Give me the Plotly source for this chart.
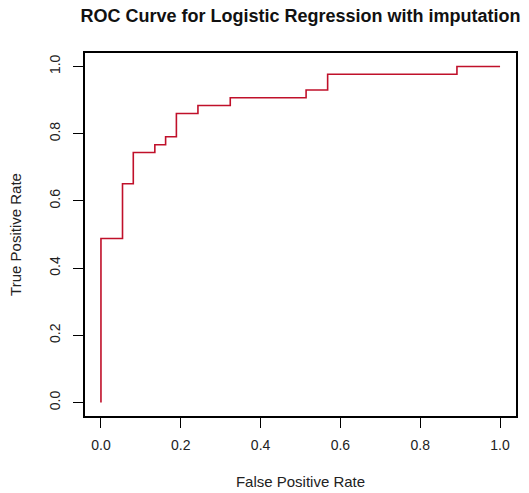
import plotly.graph_objects as go

# ROC step points
fpr = [0.0, 0.0, 0.054, 0.054, 0.081, 0.081, 0.135, 0.135, 0.162, 0.162, 0.189, 0.189,
       0.243, 0.243, 0.324, 0.324, 0.514, 0.514, 0.568, 0.568, 0.892, 0.892, 1.0]
tpr = [0.0, 0.488, 0.488, 0.651, 0.651, 0.744, 0.744, 0.767, 0.767, 0.791, 0.791, 0.860,
       0.860, 0.884, 0.884, 0.907, 0.907, 0.930, 0.930, 0.977, 0.977, 1.0, 1.0]

tick_vals = [0.0, 0.2, 0.4, 0.6, 0.8, 1.0]
tick_text = ["0.0", "0.2", "0.4", "0.6", "0.8", "1.0"]

FONT = "Liberation Sans, Arial, Helvetica, sans-serif"

fig = go.Figure()
fig.add_trace(go.Scatter(x=fpr, y=tpr, mode="lines",
                         line=dict(color="#c0102a", width=1.6),
                         showlegend=False, hoverinfo="skip"))

axis_common = dict(range=[-0.04, 1.04], tickvals=tick_vals, ticktext=tick_text,
                   showgrid=False, zeroline=False, showline=True, mirror=True,
                   linecolor="black", linewidth=1.5, ticks="outside", ticklen=10,
                   tickwidth=1.3, tickcolor="black", automargin=False,
                   tickfont=dict(family=FONT, size=14, color="#222"))

fig.update_xaxes(**axis_common, ticklabelstandoff=5,
                 title=dict(text="False Positive Rate", standoff=25,
                            font=dict(family=FONT, size=15, color="#222")))
fig.update_yaxes(**axis_common, tickangle=-90, ticklabelstandoff=8,
                 title=dict(text="True Positive Rate", standoff=21,
                            font=dict(family=FONT, size=15, color="#222")))

fig.update_layout(
    width=529, height=493,
    margin=dict(l=85, r=13, t=53, b=77, autoexpand=False),
    paper_bgcolor="white", plot_bgcolor="white",
    title=dict(text="<b>ROC Curve for Logistic Regression with imputation</b>",
               font=dict(family=FONT, size=18, color="#111"),
               xref="container", x=300.5 / 529, xanchor="center",
               yref="container", y=1 - 16 / 493, yanchor="middle"),
)

fig.write_html("out.html")
